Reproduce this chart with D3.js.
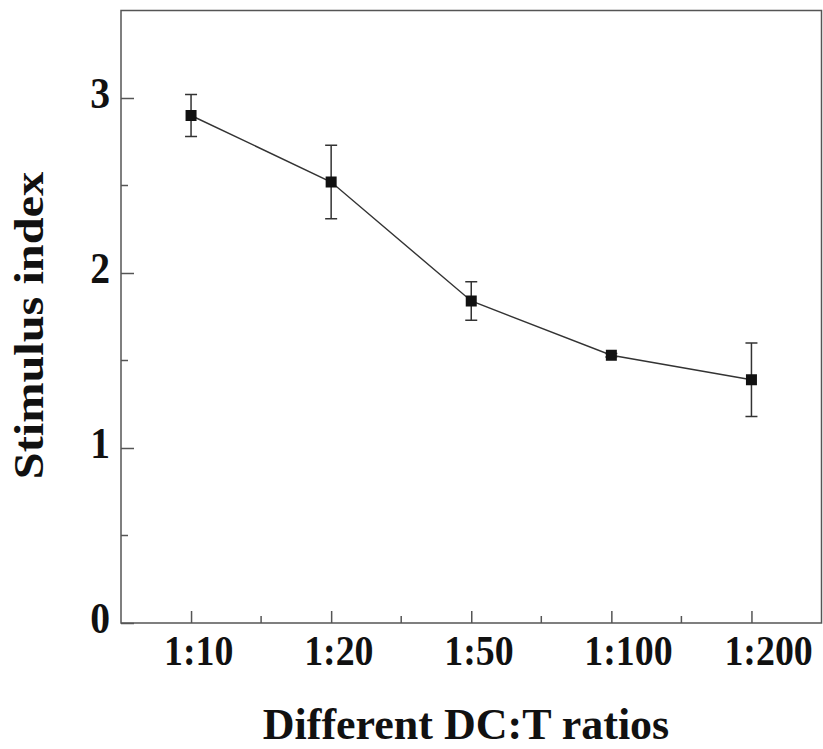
<!DOCTYPE html>
<html>
<head>
<meta charset="utf-8">
<script src="https://cdn.jsdelivr.net/npm/d3@7"></script>
<style>
  body { margin: 0; background: #fff; }
  text { font-family: "Liberation Serif", "Times New Roman", serif; font-weight: bold; fill: #111; }
</style>
</head>
<body>
<div id="chart"></div>
<script>
// data
const ratios = ["1:10", "1:20", "1:50", "1:100", "1:200"];
const stimIndex = [2.90, 2.52, 1.84, 1.53, 1.39];
const stimErr = [0.12, 0.21, 0.11, 0.01, 0.21];
const yTicks = [0, 1, 2, 3];
const yMinor = [0.5, 1.5, 2.5];

const svgWidth = 823;
const svgHeight = 749;
const margin = { top: 10.5, right: 1.5, bottom: 126, left: 121 };
const width = svgWidth - margin.left - margin.right;
const height = svgHeight - margin.top - margin.bottom;

const data = ratios.map((r, i) => ({ ratio: r, value: stimIndex[i], err: stimErr[i] }));

const svg = d3.select("#chart").append("svg")
  .attr("width", svgWidth)
  .attr("height", svgHeight);

const g = svg.append("g")
  .attr("transform", `translate(${margin.left},${margin.top})`);

const x = d3.scalePoint().domain(ratios).range([0, width]).padding(0.5);
const y = d3.scaleLinear().domain([0, 3.5]).range([height, 0]);

const axisColor = "#555";

// frame
g.append("rect")
  .attr("width", width)
  .attr("height", height)
  .attr("fill", "none")
  .attr("stroke", axisColor)
  .attr("stroke-width", 1.5);

// x ticks (inward)
const xAxis = g.append("g")
  .attr("transform", `translate(0,${height})`)
  .call(d3.axisBottom(x).tickSizeInner(-12).tickSizeOuter(0).tickFormat(""));
xAxis.select(".domain").remove();
xAxis.selectAll("line").attr("stroke", axisColor).attr("stroke-width", 1.5);

// x minor ticks halfway between categories
const step = x.step();
g.selectAll(".xminor")
  .data(ratios.slice(1))
  .enter().append("line")
  .attr("x1", d => x(d) - step / 2)
  .attr("x2", d => x(d) - step / 2)
  .attr("y1", height)
  .attr("y2", height - 7)
  .attr("stroke", axisColor)
  .attr("stroke-width", 1.5);

// x tick labels, left aligned a bit before the tick, narrow like the original
g.selectAll(".xlab")
  .data(ratios)
  .enter().append("text")
  .attr("transform", d => `translate(${x(d) - 27},${height + 42}) scale(0.88,1)`)
  .attr("font-size", 43)
  .text(d => d);

// y ticks
const yAxis = g.append("g")
  .call(d3.axisLeft(y).tickValues(yTicks).tickSizeInner(-13).tickSizeOuter(0).tickFormat(""));
yAxis.select(".domain").remove();
yAxis.selectAll("line").attr("stroke", axisColor).attr("stroke-width", 1.5);

g.selectAll(".yminor")
  .data(yMinor)
  .enter().append("line")
  .attr("x1", 0)
  .attr("x2", 7)
  .attr("y1", d => y(d))
  .attr("y2", d => y(d))
  .attr("stroke", axisColor)
  .attr("stroke-width", 1.5);

g.selectAll(".ylab")
  .data(yTicks)
  .enter().append("text")
  .attr("transform", d => `translate(-11,${y(d) + 10}) scale(0.9,1)`)
  .attr("text-anchor", "end")
  .attr("font-size", 44)
  .text(d => d);

// axis titles
svg.append("text")
  .attr("x", 466)
  .attr("y", 739)
  .attr("text-anchor", "middle")
  .attr("font-size", 44)
  .text("Different DC:T ratios");

svg.append("text")
  .attr("transform", `translate(43,${margin.top + y(1.7)}) rotate(-90) scale(1.15,1)`)
  .attr("text-anchor", "middle")
  .attr("font-size", 42)
  .text("Stimulus index");

// connecting line
g.append("path")
  .datum(data)
  .attr("fill", "none")
  .attr("stroke", "#333")
  .attr("stroke-width", 1.4)
  .attr("d", d3.line().x(d => x(d.ratio)).y(d => y(d.value)));

// error bars
const eb = g.selectAll(".err")
  .data(data)
  .enter().append("g")
  .attr("stroke", "#333")
  .attr("stroke-width", 1.5);
eb.append("line")
  .attr("x1", d => x(d.ratio))
  .attr("x2", d => x(d.ratio))
  .attr("y1", d => y(d.value + d.err))
  .attr("y2", d => y(d.value - d.err));
eb.append("line")
  .attr("x1", d => x(d.ratio) - 6)
  .attr("x2", d => x(d.ratio) + 6)
  .attr("y1", d => y(d.value + d.err))
  .attr("y2", d => y(d.value + d.err));
eb.append("line")
  .attr("x1", d => x(d.ratio) - 6)
  .attr("x2", d => x(d.ratio) + 6)
  .attr("y1", d => y(d.value - d.err))
  .attr("y2", d => y(d.value - d.err));

// square markers
g.selectAll(".pt")
  .data(data)
  .enter().append("rect")
  .attr("x", d => x(d.ratio) - 5.5)
  .attr("y", d => y(d.value) - 5.5)
  .attr("width", 11)
  .attr("height", 11)
  .attr("fill", "#111");
</script>
</body>
</html>
